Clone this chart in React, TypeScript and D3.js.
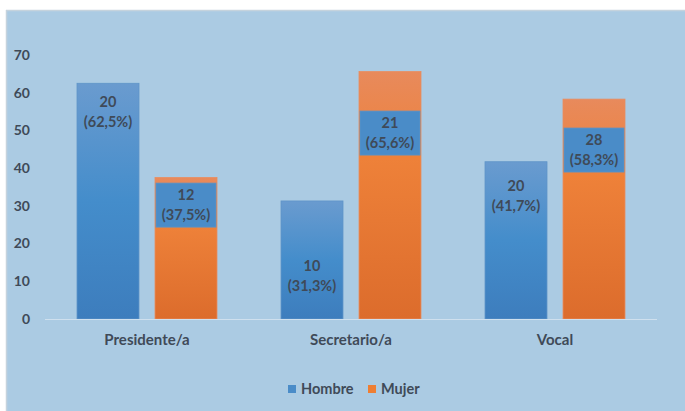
import React from "react";
import * as d3 from "d3";

const categories = ["Presidente/a", "Secretario/a", "Vocal"];
const series = ["Hombre", "Mujer"];
const hombrePct = [62.5, 31.3, 41.7];
const mujerPct = [37.5, 65.6, 58.3];
const hombreCount = [20, 10, 20];
const mujerCount = [12, 21, 28];
const hombrePctLabel = ["(62,5%)", "(31,3%)", "(41,7%)"];
const mujerPctLabel = ["(37,5%)", "(65,6%)", "(58,3%)"];
// label anchor values (data units) as placed in the original
const hombreLabelAt = [54.9, 11.4, 32.6];
const mujerLabelAt = [30.2, 49.3, 44.8];
const yTicks = [0, 10, 20, 30, 40, 50, 60, 70];

const W = 685;
const H = 411;
const FONT = "Lato, 'Open Sans', sans-serif";
const TXT = "#3f4a58";

export default function App() {
  const x0 = d3.scaleBand().domain(categories).range([45, 657]).paddingInner(0).paddingOuter(0);
  const y = d3.scaleLinear().domain([0, 70]).range([319, 55]);
  const bw = 62;
  const xs = (s: string) => (s === "Hombre" ? 32 : 32 + 62 + 16);

  return (
    <div style={{ position: "fixed", left: 0, top: 0, width: W, height: H, background: "#fff" }}>
      <svg width={W} height={H} style={{ display: "block" }}>
        <defs>
          <linearGradient id="gBlue" x1="0" y1="0" x2="0" y2="1">
            <stop offset="0" stopColor="#6a9bcf" />
            <stop offset="0.5" stopColor="#448dcb" />
            <stop offset="1" stopColor="#3d7dbd" />
          </linearGradient>
          <linearGradient id="gOrange" x1="0" y1="0" x2="0" y2="1">
            <stop offset="0" stopColor="#e88a5c" />
            <stop offset="0.35" stopColor="#ee8139" />
            <stop offset="1" stopColor="#dc6c2c" />
          </linearGradient>
        </defs>
        <rect x={6} y={10} width={W - 6} height={H - 10} fill="#abcbe3" />
        <line x1={6} x2={W} y1={10.5} y2={10.5} stroke="#c5d3dd" strokeWidth={1.5} />
        <line x1={6.5} x2={6.5} y1={10} y2={H} stroke="#c5d3dd" strokeWidth={1.5} />

        {yTicks.map((t) => (
          <text key={t} x={30} y={y(t)} dy="0.35em" textAnchor="end" fontFamily={FONT} fontWeight={700} fontSize={14} fill={TXT}>
            {t}
          </text>
        ))}

        {categories.map((c, i) => {
          const cx = x0(c)!;
          const hx = cx + xs("Hombre");
          const mx = cx + xs("Mujer");
          const hTop = y(hombrePct[i]);
          const mTop = y(mujerPct[i]);
          const hl = y(hombreLabelAt[i]);
          const ml = y(mujerLabelAt[i]);
          return (
            <g key={c}>
              <rect x={hx} y={hTop} width={bw} height={y(0) - hTop} fill="url(#gBlue)" stroke="#5f95c8" strokeWidth={0.8} />
              <rect x={mx} y={mTop} width={bw} height={y(0) - mTop} fill="url(#gOrange)" stroke="#e98d5f" strokeWidth={0.8} />
              <text x={hx + bw / 2} y={hl - 10} dy="0.35em" textAnchor="middle" fontFamily={FONT} fontWeight={700} fontSize={14.5} fill={TXT}>
                {hombreCount[i]}
              </text>
              <text x={hx + bw / 2} y={hl + 10} dy="0.35em" textAnchor="middle" fontFamily={FONT} fontWeight={700} fontSize={14.5} fill={TXT}>
                {hombrePctLabel[i]}
              </text>
              <rect x={mx + 1} y={ml - 22} width={bw - 2} height={44} fill="#4a8cc8" stroke="#5d93c6" strokeWidth={0.8} />
              <text x={mx + bw / 2} y={ml - 10} dy="0.35em" textAnchor="middle" fontFamily={FONT} fontWeight={700} fontSize={14.5} fill={TXT}>
                {mujerCount[i]}
              </text>
              <text x={mx + bw / 2} y={ml + 10} dy="0.35em" textAnchor="middle" fontFamily={FONT} fontWeight={700} fontSize={14.5} fill={TXT}>
                {mujerPctLabel[i]}
              </text>
              <text x={cx + x0.bandwidth() / 2} y={340} dy="0.35em" textAnchor="middle" fontFamily={FONT} fontWeight={700} fontSize={15} fill={TXT}>
                {c}
              </text>
            </g>
          );
        })}

        <line x1={45} x2={657} y1={y(0) + 0.5} y2={y(0) + 0.5} stroke="#cfe0ee" strokeWidth={1.2} />

        <g>
          <rect x={288} y={385} width={8} height={8} fill="#4a8cc8" />
          <text x={301} y={389} dy="0.35em" fontFamily={FONT} fontWeight={700} fontSize={14.5} fill={TXT}>
            {series[0]}
          </text>
          <rect x={368} y={385} width={8} height={8} fill="#ee7e33" />
          <text x={381} y={389} dy="0.35em" fontFamily={FONT} fontWeight={700} fontSize={14.5} fill={TXT}>
            {series[1]}
          </text>
        </g>
      </svg>
    </div>
  );
}
